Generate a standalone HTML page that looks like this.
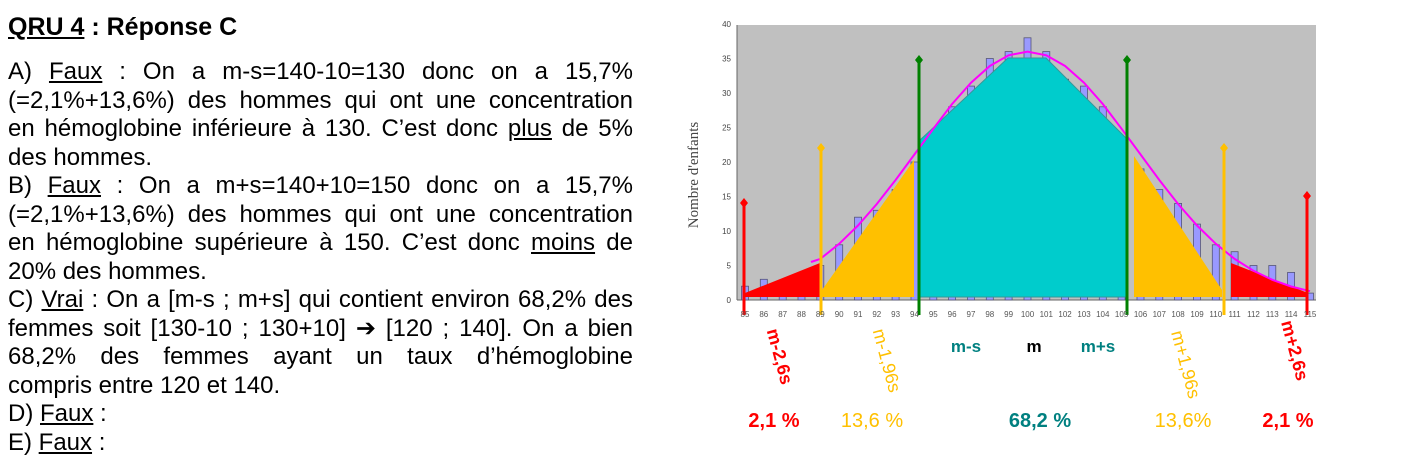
<!DOCTYPE html>
<html><head><meta charset="utf-8">
<style>
body{margin:0;width:1405px;height:474px;background:#fff;position:relative;overflow:hidden;font-family:"Liberation Sans",Arial,sans-serif;}
.t{position:absolute;left:8px;width:625px;font-size:24px;line-height:28px;white-space:nowrap;color:#000;}
.j{text-align:justify;text-align-last:justify;}
u{text-decoration:underline;}
svg{position:absolute;left:0;top:0;}
</style></head><body>
<div class="t" style="top:13px;font-weight:bold;font-size:25px;"><u>QRU 4</u> : Réponse C</div>
<div class="t j" style="top:58px;">A) <u>Faux</u> : On a m-s=140-10=130 donc on a 15,7%</div>
<div class="t j" style="top:86.5px;">(=2,1%+13,6%) des hommes qui ont une concentration</div>
<div class="t j" style="top:115px;">en hémoglobine inférieure à 130. C’est donc <u>plus</u> de 5%</div>
<div class="t" style="top:143.5px;">des hommes.</div>
<div class="t j" style="top:172px;">B) <u>Faux</u> : On a m+s=140+10=150 donc on a 15,7%</div>
<div class="t j" style="top:200.5px;">(=2,1%+13,6%) des hommes qui ont une concentration</div>
<div class="t j" style="top:229px;">en hémoglobine supérieure à 150. C’est donc <u>moins</u> de</div>
<div class="t" style="top:257.5px;">20% des hommes.</div>
<div class="t j" style="top:286px;">C) <u>Vrai</u> : On a [m-s ; m+s] qui contient environ 68,2% des</div>
<div class="t j" style="top:314.5px;">femmes soit [130-10 ; 130+10] ➔ [120 ; 140]. On a bien</div>
<div class="t j" style="top:343px;">68,2% des femmes ayant un taux d’hémoglobine</div>
<div class="t" style="top:371.5px;">compris entre 120 et 140.</div>
<div class="t" style="top:400px;">D) <u>Faux</u> :</div>
<div class="t" style="top:428.5px;">E) <u>Faux</u> :</div>

<svg width="1405" height="474" xmlns="http://www.w3.org/2000/svg" font-family="Liberation Sans, Arial, sans-serif">
<rect x="737" y="25" width="579" height="275" fill="#c0c0c0"/>
<line x1="737" y1="300" x2="1316" y2="300" stroke="#666" stroke-width="1"/>
<line x1="737" y1="25" x2="737" y2="300" stroke="#666" stroke-width="1"/>
<g font-size="8" fill="#444" text-anchor="end">
<text x="731" y="303">0</text><text x="731" y="268.5">5</text><text x="731" y="234">10</text><text x="731" y="199.5">15</text>
<text x="731" y="165">20</text><text x="731" y="130.5">25</text><text x="731" y="96">30</text><text x="731" y="61.5">35</text><text x="731" y="27">40</text>
</g>
<text transform="translate(698,175) rotate(-90)" text-anchor="middle" font-family="Liberation Serif, serif" font-size="15" fill="#444">Nombre d'enfants</text>
<g fill="#9999ff" stroke="#555577" stroke-width="0.8">
<rect x="741.5" y="286.2" width="7" height="13.8"/><rect x="760.3" y="279.3" width="7" height="20.7"/>
<rect x="779.2" y="286.2" width="7" height="13.8"/><rect x="798" y="286.2" width="7" height="13.8"/>
<rect x="816.8" y="265.5" width="7" height="34.5"/><rect x="835.7" y="244.8" width="7" height="55.2"/>
<rect x="854.5" y="217.2" width="7" height="82.8"/><rect x="873.3" y="210.3" width="7" height="89.7"/>
<rect x="892.1" y="189.6" width="7" height="110.4"/><rect x="911" y="162" width="7" height="138"/>
<rect x="929.8" y="141.3" width="7" height="158.7"/><rect x="948.6" y="106.8" width="7" height="193.2"/>
<rect x="967.5" y="86.1" width="7" height="213.9"/><rect x="986.3" y="58.5" width="7" height="241.5"/>
<rect x="1005.1" y="51.6" width="7" height="248.4"/><rect x="1024" y="37.8" width="7" height="262.2"/>
<rect x="1042.8" y="51.6" width="7" height="248.4"/><rect x="1061.6" y="79.2" width="7" height="220.8"/>
<rect x="1080.5" y="86.1" width="7" height="213.9"/><rect x="1099.3" y="106.8" width="7" height="193.2"/>
<rect x="1118.1" y="141.3" width="7" height="158.7"/><rect x="1137" y="168.9" width="7" height="131.1"/>
<rect x="1155.8" y="189.6" width="7" height="110.4"/><rect x="1174.6" y="203.4" width="7" height="96.6"/>
<rect x="1193.5" y="224.1" width="7" height="75.9"/><rect x="1212.3" y="244.8" width="7" height="55.2"/>
<rect x="1231.1" y="251.7" width="7" height="48.3"/><rect x="1250" y="265.5" width="7" height="34.5"/>
<rect x="1268.8" y="265.5" width="7" height="34.5"/><rect x="1287.6" y="272.4" width="7" height="27.6"/>
<rect x="1306.5" y="293.1" width="7" height="6.9"/>
</g>
<polygon points="745,293 820,263 820,297 745,297" fill="#ff0000"/>
<polygon points="822,290 914,160 914,297 822,297" fill="#ffc000"/>
<polygon points="919,297 919,141 1008,58 1046,58 1126,138 1126,297" fill="#00cccc" stroke="#339999" stroke-width="1"/>
<polygon points="1134,156 1222,290 1222,297 1134,297" fill="#ffc000"/>
<polygon points="1231,263 1308,293 1308,297 1231,297" fill="#ff0000"/>
<path d="M811,262 L820.3,258.9 839.2,243.8 858,225.5 876.8,204 895.6,180 914.5,154.4 933.3,128.8 952.1,104 971,82.7 989.8,66 1008.6,55.3 1027.5,51.6 1046.3,55.3 1065.1,66 1084,82.7 1102.8,104 1121.6,128.8 1140.5,154.4 1159.3,180 1178.1,204 1197,225.5 1215.8,243.8 1234.6,258.9 1253.5,270.8 1272.3,279.8 1291.1,286.5 1310,291.2" fill="none" stroke="#ff00ff" stroke-width="2"/>
<g stroke-width="3">
<line x1="744" y1="203" x2="744" y2="315" stroke="#ff0000"/>
<line x1="821" y1="148" x2="821" y2="315" stroke="#ffc000"/>
<line x1="919" y1="60" x2="919" y2="315" stroke="#008000"/>
<line x1="1127" y1="60" x2="1127" y2="315" stroke="#008000"/>
<line x1="1224" y1="148" x2="1224" y2="315" stroke="#ffc000"/>
<line x1="1307" y1="196" x2="1307" y2="315" stroke="#ff0000"/>
</g>
<g>
<polygon points="744,198 748,203 744,208 740,203" fill="#ff0000"/>
<polygon points="821,143 825,148 821,153 817,148" fill="#ffc000"/>
<polygon points="919,55 923,60 919,65 915,60" fill="#008000"/>
<polygon points="1127,55 1131,60 1127,65 1123,60" fill="#008000"/>
<polygon points="1224,143 1228,148 1224,153 1220,148" fill="#ffc000"/>
<polygon points="1307,191 1311,196 1307,201 1303,196" fill="#ff0000"/>
</g>
<g font-size="8" fill="#555" text-anchor="middle">
<text x="745" y="317">85</text><text x="763.8" y="317">86</text><text x="782.7" y="317">87</text><text x="801.5" y="317">88</text>
<text x="820.3" y="317">89</text><text x="839.2" y="317">90</text><text x="858" y="317">91</text><text x="876.8" y="317">92</text>
<text x="895.6" y="317">93</text><text x="914.5" y="317">94</text><text x="933.3" y="317">95</text><text x="952.1" y="317">96</text>
<text x="971" y="317">97</text><text x="989.8" y="317">98</text><text x="1008.6" y="317">99</text><text x="1027.5" y="317">100</text>
<text x="1046.3" y="317">101</text><text x="1065.1" y="317">102</text><text x="1084" y="317">103</text><text x="1102.8" y="317">104</text>
<text x="1121.6" y="317">105</text><text x="1140.5" y="317">106</text><text x="1159.3" y="317">107</text><text x="1178.1" y="317">108</text>
<text x="1197" y="317">109</text><text x="1215.8" y="317">110</text><text x="1234.6" y="317">111</text><text x="1253.5" y="317">112</text>
<text x="1272.3" y="317">113</text><text x="1291.1" y="317">114</text><text x="1310" y="317">115</text>
</g>
<g font-size="18" font-weight="bold">
<text transform="translate(774,358) rotate(75)" text-anchor="middle" fill="#ff0000">m-2,6s</text>
<text transform="translate(881,362) rotate(75)" text-anchor="middle" fill="#ffc000" font-weight="normal">m-1,96s</text>
<text transform="translate(1180,366) rotate(75)" text-anchor="middle" fill="#ffc000" font-weight="normal">m+1,96s</text>
<text transform="translate(1289,352) rotate(75)" text-anchor="middle" fill="#ff0000">m+2,6s</text>
<text x="966" y="352" text-anchor="middle" fill="#008080" font-size="17">m-s</text>
<text x="1034" y="352" text-anchor="middle" fill="#000" font-size="17">m</text>
<text x="1098" y="352" text-anchor="middle" fill="#008080" font-size="17">m+s</text>
<text x="774" y="427" text-anchor="middle" fill="#ff0000" font-size="20">2,1 %</text>
<text x="872" y="427" text-anchor="middle" fill="#ffc000" font-size="20" font-weight="normal">13,6 %</text>
<text x="1040" y="427" text-anchor="middle" fill="#008080" font-size="20">68,2 %</text>
<text x="1183" y="427" text-anchor="middle" fill="#ffc000" font-size="20" font-weight="normal">13,6%</text>
<text x="1288" y="427" text-anchor="middle" fill="#ff0000" font-size="20">2,1 %</text>
</g>
</svg>
</body></html>
